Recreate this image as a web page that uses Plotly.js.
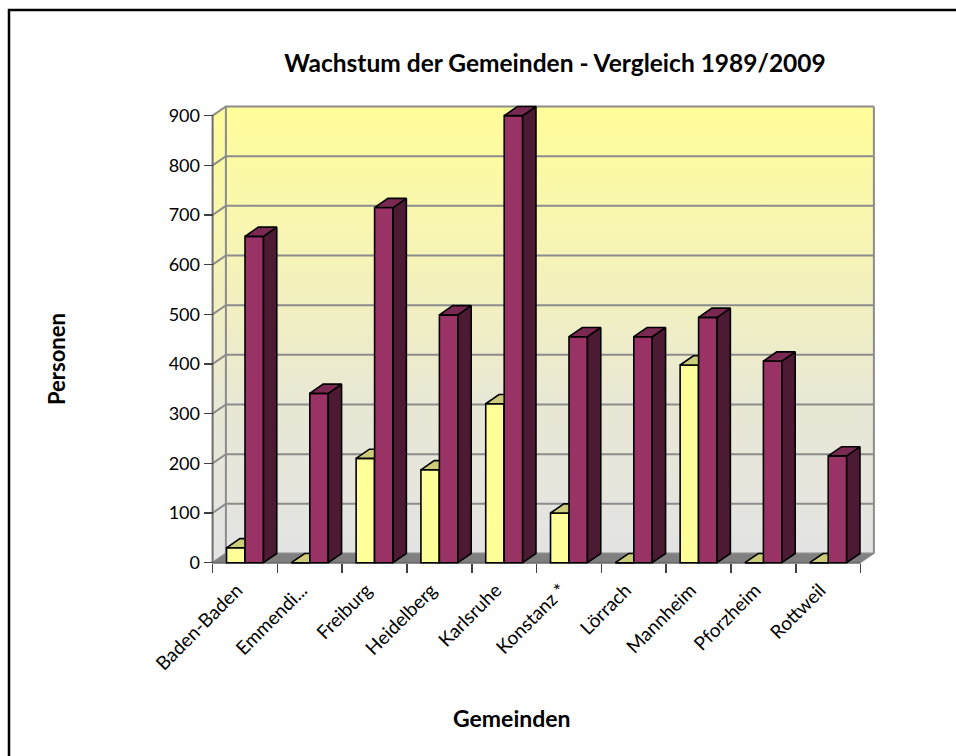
<!DOCTYPE html>
<html><head><meta charset="utf-8">
<script src="https://cdn.plot.ly/plotly-3.0.1.min.js"></script>
<style>html,body{margin:0;padding:0;background:#fff}#chart{width:956px;height:756px}</style>
</head><body><div id="chart"></div>
<script>
// ---- data ----
const categories = ['Baden-Baden','Emmendi...','Freiburg','Heidelberg','Karlsruhe','Konstanz *','Lörrach','Mannheim','Pforzheim','Rottweil'];
const values1989 = [30, 0, 210, 187, 320, 100, 0, 398, 0, 0];
const values2009 = [657, 341, 715, 499, 900, 455, 455, 494, 406, 215];
const yTickVals = [0, 100, 200, 300, 400, 500, 600, 700, 800, 900];
const yTickText = ['0','100','200','300','400','500','600','700','800','900'];

// ---- geometry (pixels) ----
const W = 956, H = 756;
const M = {l: 209, r: 76, t: 101, b: 190};
const plotW = W - M.l - M.r, plotH = H - M.t - M.b;
const frontX0 = 212.6;          // pixel of front y axis
const catPx = 64.8;             // pixels per category
const zeroY = 562.7;            // pixel of value 0
const valPx = 0.4967;           // pixels per unit
const xMin = -0.5 - (frontX0 - M.l) / catPx;
const xRange = [xMin, xMin + plotW / catPx];
const yMin = -((H - M.b) - zeroY) / valPx;
const yRange = [yMin, yMin + plotH / valPx];
const DX = 13.3 / catPx;        // depth offset (x)
const DY = 9.2 / valPx;         // depth offset (y)
const BW = 0.285;               // bar width
const n = categories.length;
const idx = categories.map((c, i) => i);
const yTop = yTickVals[yTickVals.length - 1];
const px2x = p => (p - M.l) / plotW;
const px2y = p => (H - M.b - p) / plotH;

const FONT = 'Lato, "Open Sans", sans-serif';
const traces = [];
const grad = {type: 'vertical', start: DY, stop: yTop + DY,
  colorscale: [[0, '#E3E3E3'], [0.35, '#E9E8D4'], [0.7, '#F7F5B3'], [1, '#FFFD99']]};

// walls (base subplot)
traces.push({type: 'scatter', mode: 'lines', xaxis: 'x', yaxis: 'y', hoverinfo: 'skip', showlegend: false,
  x: [-0.5, -0.5, -0.5 + DX, -0.5 + DX, -0.5], y: [0, yTop, yTop + DY, DY, 0],
  fill: 'toself', fillgradient: grad, line: {width: 0}});
traces.push({type: 'scatter', mode: 'lines', xaxis: 'x', yaxis: 'y', hoverinfo: 'skip', showlegend: false,
  x: [-0.5 + DX, n - 0.5 + DX, n - 0.5 + DX, -0.5 + DX, -0.5 + DX], y: [DY, DY, yTop + DY, yTop + DY, DY],
  fill: 'toself', fillgradient: grad, line: {width: 0}});
// grid lines on back wall and left wall
const gx = [], gy = [];
yTickVals.forEach(v => {
  gx.push(-0.5, -0.5 + DX, n - 0.5 + DX, null);
  gy.push(v, v + DY, v + DY, null);
});
traces.push({type: 'scatter', mode: 'lines', xaxis: 'x', yaxis: 'y', hoverinfo: 'skip', showlegend: false,
  x: gx, y: gy, line: {color: '#8C8C8C', width: 2}});
// wall edges
traces.push({type: 'scatter', mode: 'lines', xaxis: 'x', yaxis: 'y', hoverinfo: 'skip', showlegend: false,
  x: [-0.5 + DX, -0.5 + DX, null, n - 0.5 + DX, n - 0.5 + DX], y: [DY, yTop + DY, null, DY, yTop + DY],
  line: {color: '#8C8C8C', width: 2}});
// floor
traces.push({type: 'scatter', mode: 'lines', xaxis: 'x', yaxis: 'y', hoverinfo: 'skip', showlegend: false,
  x: [-0.5, n - 0.5, n - 0.5 + DX, -0.5 + DX, -0.5], y: [0, 0, DY, DY, 0],
  fill: 'toself', fillcolor: '#808080', line: {color: '#8C8C8C', width: 1}});
// front axis lines
traces.push({type: 'scatter', mode: 'lines', xaxis: 'x', yaxis: 'y', hoverinfo: 'skip', showlegend: false,
  x: [-0.5, -0.5, null, -0.5, n - 0.5], y: [0, yTop, null, 0, 0],
  line: {color: '#6E6E6E', width: 2}});

// bar faces
function faces(vals, off) {
  const top = {x: [], y: []}, side = {x: [], y: []};
  vals.forEach((v, i) => {
    const xl = i + off, xr = i + off + BW;
    top.x.push(xl, xr, xr + DX, xl + DX, xl, null);
    top.y.push(v, v, v + DY, v + DY, v, null);
    side.x.push(xr, xr + DX, xr + DX, xr, xr, null);
    side.y.push(0, DY, v + DY, v, 0, null);
  });
  return {top, side};
}
function addSeries(name, vals, off, ax, ay, front, topC, sideC) {
  const f = faces(vals, off);
  traces.push({type: 'bar', name: name, x: idx, y: vals, xaxis: ax, yaxis: ay,
    width: BW, offset: off, marker: {color: front, line: {color: '#000', width: 1.6}}, showlegend: false});
  traces.push({type: 'scatter', mode: 'lines', xaxis: ax, yaxis: ay, hoverinfo: 'skip', showlegend: false,
    x: f.side.x, y: f.side.y, fill: 'toself', fillcolor: sideC, line: {color: '#000', width: 1.6}});
  traces.push({type: 'scatter', mode: 'lines', xaxis: ax, yaxis: ay, hoverinfo: 'skip', showlegend: false,
    x: f.top.x, y: f.top.y, fill: 'toself', fillcolor: topC, line: {color: '#000', width: 1.6}});
}
addSeries('1989', values1989, -BW, 'x2', 'y2', '#FFFF99', '#CCCC7A', '#999966');
addSeries('2009', values2009, 0, 'x3', 'y3', '#993366', '#7A2952', '#4D1A33');

const tickFont = {family: FONT, size: 19, color: '#000'};
const layout = {
  width: W, height: H, margin: M, showlegend: false, hovermode: false,
  paper_bgcolor: '#fff', plot_bgcolor: 'rgba(0,0,0,0)',
  title: {text: '<b>Wachstum der Gemeinden - Vergleich 1989/2009</b>',
    font: {family: FONT, size: 24.5, color: '#000'},
    xref: 'paper', x: px2x(555), xanchor: 'center', yref: 'container', y: 1 - 63 / H, yanchor: 'middle'},
  xaxis: {range: xRange, tickvals: idx, ticktext: categories, tickangle: -45, tickfont: tickFont,
    ticks: 'outside', ticklen: 8, tickcolor: 'rgba(0,0,0,0)', ticklabelshift: -8,
    showgrid: false, zeroline: false, showline: false,
    anchor: 'free', position: px2y(zeroY), fixedrange: true},
  yaxis: {range: yRange, tickvals: yTickVals, ticktext: yTickText, tickfont: {family: FONT, size: 18, color: '#000'},
    ticks: 'outside', ticklen: 9, tickwidth: 1.5, tickcolor: '#404040', showgrid: false, zeroline: false, showline: false,
    anchor: 'free', position: px2x(frontX0), fixedrange: true},
  xaxis2: {overlaying: 'x', range: xRange, tickvals: idx.concat([n]).map(i => i - 0.5), ticktext: idx.concat([n]).map(() => ''),
    ticks: 'outside', ticklen: 9, tickwidth: 1.5, tickcolor: '#404040', showgrid: false, zeroline: false, showline: false,
    anchor: 'free', position: px2y(zeroY), fixedrange: true},
  yaxis2: {overlaying: 'y', range: yRange, visible: false, fixedrange: true},
  xaxis3: {overlaying: 'x', range: xRange, visible: false, fixedrange: true},
  yaxis3: {overlaying: 'y', range: yRange, visible: false, fixedrange: true},
  annotations: [
    {text: '<b>Personen</b>', xref: 'paper', yref: 'paper', x: px2x(56), y: px2y(359), textangle: -90,
      showarrow: false, xanchor: 'center', yanchor: 'middle', font: {family: FONT, size: 22, color: '#000'}},
    {text: '<b>Gemeinden</b>', xref: 'paper', yref: 'paper', x: px2x(512), y: px2y(718),
      showarrow: false, xanchor: 'center', yanchor: 'middle', font: {family: FONT, size: 23, color: '#000'}}
  ],
  shapes: [
    {type: 'path', xref: 'paper', yref: 'paper', layer: 'above',
      path: `M ${px2x(9)} ${px2y(H + 5)} L ${px2x(9)} ${px2y(10)} L ${px2x(W + 5)} ${px2y(10)}`,
      line: {color: '#000', width: 2.5}}
  ]
};
Plotly.newPlot('chart', traces, layout, {displayModeBar: false, staticPlot: true});
</script></body></html>
